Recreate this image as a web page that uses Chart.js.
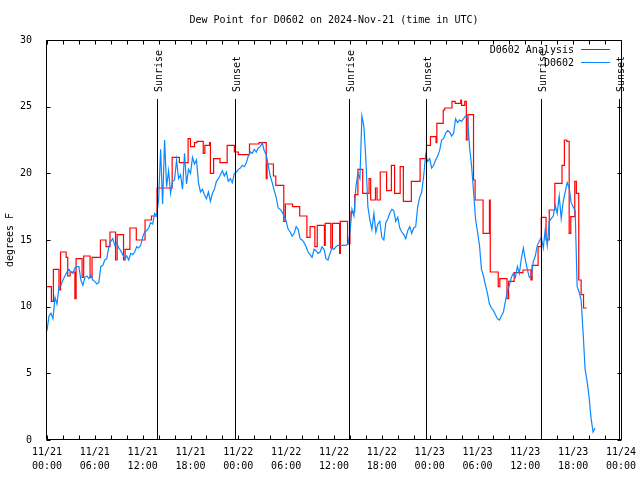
<!DOCTYPE html>
<html lang="en">
  <head>
    <meta charset="UTF-8" />
    <title>Dew Point for D0602</title>
    <script src="https://cdn.jsdelivr.net/npm/chart.js"></script>
    <style>
      body { margin: 0; background: #fff; }
      #wrap { width: 640px; height: 480px; }
    </style>
  </head>
  <body>
    <div id="wrap"><canvas id="dewChart" width="640" height="480"></canvas></div>

    <script>
      // x axis is hours since 11/21 00:00 UTC
      const tickHours = [0, 6, 12, 18, 24, 30, 36, 42, 48, 54, 60, 66, 72];
      const tickDates = ["11/21", "11/21", "11/21", "11/21", "11/22", "11/22", "11/22", "11/22", "11/23", "11/23", "11/23", "11/23", "11/24"];
      const tickTimes = ["00:00", "06:00", "12:00", "18:00", "00:00", "06:00", "12:00", "18:00", "00:00", "06:00", "12:00", "18:00", "00:00"];

      const sunriseHours = [13.85, 37.9, 61.95];
      const sunsetHours = [23.55, 47.6, 71.7];

      // D0602 Analysis (stepped): value holds from each hour until the next one
      const analysisHours = [
        0, 0.55, 0.8, 1.5, 1.7, 2.4, 2.6, 2.9, 3.5, 3.65,
        4.4, 4.6, 5.4, 5.65, 6.7, 7.4, 7.9, 8.6, 8.8, 9.6,
        9.8, 10.4, 11.2, 12.3, 13.1, 13.8, 15.7, 16.6, 17.7, 18.0,
        18.5, 18.8, 19.6, 19.8, 20.4, 20.5, 20.9, 21.7, 22.6, 23.5,
        24.0, 25.4, 26.6, 27.5, 27.6, 28.4, 28.7, 29.7, 29.9, 30.8,
        31.7, 32.6, 33.0, 33.6, 33.9, 34.8, 34.9, 35.6, 35.8, 36.7,
        36.8, 37.7, 38.0, 38.6, 39.0, 39.6, 40.4, 40.6, 41.2, 41.4,
        41.8, 42.6, 43.2, 43.6, 44.3, 44.7, 45.7, 46.8, 47.6, 48.1,
        48.8, 48.9, 49.7, 49.9, 50.8, 51.2, 51.9, 52.0, 52.4, 52.6,
        52.8, 53.5, 53.7, 54.7, 55.5, 55.6, 56.6, 56.8, 57.7, 57.9,
        58.6, 59.7, 60.7, 60.85, 61.6, 62.0, 62.6, 63.0, 63.7, 64.6,
        64.9, 65.2, 65.5, 65.7, 66.2, 66.4, 66.7, 67.0, 67.3, 67.7
      ];
      const analysisValues = [
        11.5, 10.4, 12.8, 11.25, 14.1, 13.7, 12.3, 12.6, 10.6, 13.6,
        12.2, 13.8, 12.2, 13.7, 15.0, 14.5, 15.6, 13.5, 15.4, 13.5,
        14.3, 15.9, 15.0, 16.5, 16.8, 18.9, 21.2, 20.8, 22.6, 22.0,
        22.3, 22.4, 21.5, 22.1, 22.3, 20.0, 21.1, 20.8, 22.1, 21.6,
        21.4, 22.2, 22.3, 19.6, 20.7, 19.8, 19.1, 16.4, 17.7, 17.5,
        16.8, 15.2, 16.0, 14.5, 16.1, 14.6, 16.25, 14.4, 16.25, 14.0,
        16.4, 14.7, 17.1, 18.4, 20.3, 18.5, 19.6, 18.0, 18.9, 18.0,
        20.1, 18.7, 20.6, 18.5, 20.5, 17.9, 19.4, 21.1, 22.1, 22.75,
        22.3, 23.75, 24.75, 24.9, 25.4, 25.25, 25.5, 25.1, 25.4, 22.5,
        24.4, 19.5, 18.0, 15.5, 18.0, 12.6, 11.5, 12.1, 10.6, 11.9,
        12.55, 12.75, 12.0, 13.1, 14.5, 16.7, 15.0, 17.25, 19.25, 20.6,
        22.5, 22.4, 15.5, 16.75, 19.4, 18.5, 12.0, 10.9, 9.9, 9.9
      ];

      // D0602 observations, every 15 minutes from 11/21 00:00 (three hours per row)
      const obsStepHours = 0.25;
      const obsValues = [
        8.2, 9.3, 9.5, 9.1,   10.7, 10.2, 11.5, 11.6,   12.0, 12.3, 12.6, 12.8,
        12.6, 12.5, 12.9, 13.0,   13.0, 12.0, 11.6, 12.2,   12.3, 12.1, 12.4, 12.0,
        11.9, 11.7, 11.8, 13.0,   13.1, 13.5, 13.6, 14.5,   14.9, 15.1, 14.6, 14.8,
        14.4, 14.2, 13.9, 13.6,   13.8, 13.5, 14.0, 13.9,   14.1, 14.5, 14.4, 14.6,
        15.2, 15.6, 15.7, 15.9,   16.3, 16.2, 17.0, 16.8,   18.0, 21.8, 17.7, 22.5,
        19.0, 20.2, 18.5, 19.4,   19.5, 21.0, 19.6, 19.9,   18.8, 21.5, 19.2, 20.3,
        20.0, 21.2, 20.7, 21.0,   19.3, 18.6, 18.8, 18.4,   18.1, 18.6, 17.9, 18.5,
        18.8, 19.4, 19.6, 19.9,   20.2, 19.8, 20.1, 19.4,   19.6, 19.3, 20.0, 20.1,
        20.3, 20.4, 20.6, 20.5,   20.8, 21.3, 21.6, 21.5,   21.8, 21.6, 21.9, 22.0,
        22.3, 21.7, 21.4, 20.6,   19.8, 19.3, 18.7, 18.2,   17.4, 17.3, 17.1, 16.8,
        16.4, 15.8, 15.6, 15.3,   15.5, 16.0, 15.8, 15.1,   15.0, 14.8, 14.5, 14.1,
        13.9, 13.7, 14.3, 14.2,   14.0, 14.1, 14.5, 14.3,   13.6, 13.5, 14.0, 14.4,
        14.3, 14.5, 14.6, 14.6,   14.6, 14.6, 14.6, 14.7,   15.5, 17.3, 16.8, 19.0,
        20.0, 19.6, 24.3, 23.5,   21.0, 17.5, 16.5, 15.8,   17.0, 15.6, 16.2, 16.4,
        15.2, 15.0, 16.3, 16.6,   17.0, 17.3, 17.2, 16.4,   16.7, 15.9, 15.6, 15.4,
        15.1, 15.7, 16.0, 15.5,   15.9, 16.0, 17.5, 18.2,   18.6, 19.8, 21.4, 20.9,
        21.1, 20.4, 20.6, 21.0,   21.3, 21.7, 22.5, 22.6,   23.0, 23.2, 23.1, 22.8,
        23.0, 24.1, 23.8, 24.0,   23.9, 24.1, 24.3, 24.2,   22.0, 20.6, 18.7, 16.6,
        15.6, 14.6, 12.8, 12.3,   11.6, 11.0, 10.2, 9.9,   9.7, 9.4, 9.1, 9.0,
        9.3, 9.6, 10.4, 11.2,   11.6, 12.2, 12.5, 12.2,   13.0, 12.5, 13.6, 14.4,
        13.5, 12.8, 12.2, 12.3,   13.4, 13.8, 14.6, 14.9,   15.2, 14.4, 15.8, 14.6,
        16.4, 16.6, 16.8, 17.6,   17.0, 18.3, 16.6, 17.9,   18.6, 19.3, 18.9, 17.8,
        17.5, 17.2, 11.5, 11.1,   10.5, 8.0, 5.3, 4.4,   3.2, 1.6, 0.6, 0.9
      ];

      const monoFont = "DejaVu Sans Mono";
      const xTicStep = 2;
      const yTicStep = 5;

      // inward tics on all four sides, frame, sun lines, title and legend
      const gnuplotFrame = {
        id: "gnuplotFrame",
        afterDraw(chart) {
          const { ctx, chartArea: a, scales: { x, y } } = chart;
          const tic = 4;
          const L = Math.round(a.left) - 0.5;
          const R = Math.round(a.right) + 0.5;
          const T = Math.round(a.top) + 0.5;
          const B = Math.round(a.bottom) - 0.5;
          ctx.save();
          ctx.strokeStyle = "#000000";
          ctx.lineWidth = 1;
          ctx.beginPath();
          for (let v = x.min; v <= x.max; v += xTicStep) {
            const px = Math.round(x.getPixelForValue(v)) + 0.5;
            ctx.moveTo(px, B); ctx.lineTo(px, B - tic);
            ctx.moveTo(px, T); ctx.lineTo(px, T + tic);
          }
          for (let v = y.min; v <= y.max; v += yTicStep) {
            const py = Math.round(y.getPixelForValue(v)) + 0.5;
            ctx.moveTo(L, py); ctx.lineTo(L + tic, py);
            ctx.moveTo(R, py); ctx.lineTo(R - tic, py);
          }
          ctx.rect(L, T, R - L, B - T);
          ctx.stroke();

          // sunrise / sunset markers
          ctx.font = "10px " + monoFont;
          ctx.fillStyle = "#000";
          const marks = sunriseHours.map((h) => [h, "Sunrise"]).concat(sunsetHours.map((h) => [h, "Sunset"]));
          marks.forEach(([h, label]) => {
            const px = Math.round(x.getPixelForValue(h)) + 0.5;
            ctx.beginPath();
            ctx.moveTo(px, a.top + 59);
            ctx.lineTo(px, a.bottom);
            ctx.stroke();
            ctx.save();
            ctx.translate(px + 1.5, a.top + 52);
            ctx.rotate(-Math.PI / 2);
            ctx.textAlign = "left";
            ctx.textBaseline = "middle";
            ctx.fillText(label, 0, 0);
            ctx.restore();
          });

          // title
          ctx.textAlign = "center";
          ctx.textBaseline = "middle";
          ctx.fillText("Dew Point for D0602 on 2024-Nov-21 (time in UTC)", (a.left + a.right) / 2, 20);

          // legend
          const rows = [["D0602 Analysis", "#ff0000"], ["D0602", "#0a88ff"]];
          rows.forEach(([label, color], i) => {
            const ly = a.top + 10 + i * 13;
            ctx.textAlign = "right";
            ctx.fillStyle = "#000";
            ctx.fillText(label, a.right - 47, ly);
            ctx.strokeStyle = color;
            ctx.beginPath();
            ctx.moveTo(a.right - 40, Math.round(ly) - 0.5);
            ctx.lineTo(a.right - 11, Math.round(ly) - 0.5);
            ctx.stroke();
          });
          ctx.restore();
        },
      };

      document.addEventListener("DOMContentLoaded", function () {
        const analysisPoints = analysisHours.map((h, i) => ({ x: h, y: analysisValues[i] }));
        const obsPoints = obsValues.map((v, i) => ({ x: i * obsStepHours, y: v }));

        new Chart(document.getElementById("dewChart"), {
          type: "line",
          data: {
            datasets: [
              {
                label: "D0602 Analysis",
                data: analysisPoints,
                borderColor: "#ff0000",
                borderWidth: 1.2,
                stepped: "before",
                pointRadius: 0,
                order: 2,
              },
              {
                label: "D0602",
                data: obsPoints,
                borderColor: "#0a88ff",
                borderWidth: 1.2,
                tension: 0,
                pointRadius: 0,
                order: 1,
              },
            ],
          },
          options: {
            responsive: false,
            animation: false,
            layout: { padding: { top: 40, right: 19, bottom: 0, left: 0 } },
            plugins: {
              legend: { display: false },
              tooltip: { enabled: false },
            },
            scales: {
              x: {
                type: "linear",
                min: 0,
                max: 72,
                afterFit: (scale) => { scale.height = 40; },
                grid: { display: false },
                border: { display: false },
                ticks: {
                  stepSize: 6,
                  autoSkip: false,
                  maxRotation: 0,
                  padding: -3,
                  color: "#000",
                  font: { family: monoFont, size: 10, lineHeight: 1.45 },
                  callback: (v) => {
                    const i = tickHours.indexOf(v);
                    return i < 0 ? "" : [tickDates[i], tickTimes[i]];
                  },
                },
              },
              y: {
                min: 0,
                max: 30,
                afterFit: (scale) => { scale.width = 47; },
                grid: { display: false },
                border: { display: false },
                title: {
                  display: true,
                  text: "degrees F",
                  color: "#000",
                  font: { family: monoFont, size: 10 },
                  padding: { top: 4, bottom: 0 },
                },
                ticks: {
                  stepSize: yTicStep,
                  padding: 7,
                  color: "#000",
                  font: { family: monoFont, size: 10 },
                },
              },
            },
          },
          plugins: [gnuplotFrame],
        });
      });
    </script>
  </body>
</html>
